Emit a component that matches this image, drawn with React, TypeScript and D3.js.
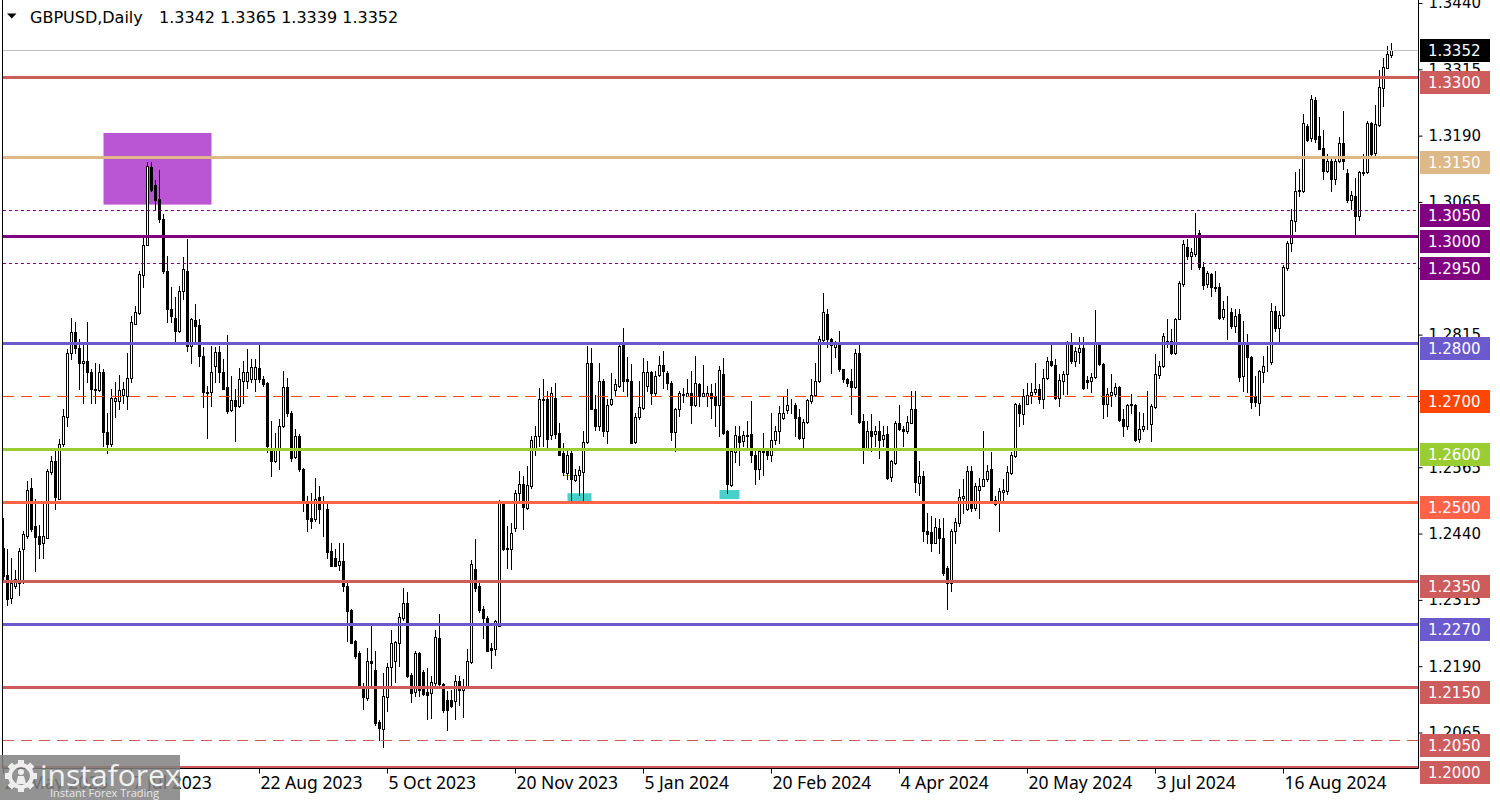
import { useEffect, useRef } from "react";
import * as d3 from "d3";

// GBPUSD daily candles, one value per trading day from 24 May 2023
const opens = [
  1.2413, 1.2361, 1.2319, 1.2341, 1.2347, 1.241, 1.2435, 1.2525, 1.2455, 1.2435,
  1.2423, 1.2432, 1.2556, 1.2576, 1.2506, 1.2608, 1.2659, 1.278, 1.2819, 1.2789,
  1.2761, 1.2765, 1.2744, 1.2711, 1.2711, 1.2745, 1.2632, 1.2608, 1.2689, 1.2689,
  1.2701, 1.27, 1.2734, 1.2835, 1.2856, 1.2928, 1.2983, 1.313, 1.3097, 1.3071,
  1.3033, 1.2935, 1.2864, 1.2847, 1.2822, 1.2898, 1.2935, 1.2793, 1.2843, 1.2833,
  1.2774, 1.2707, 1.2706, 1.2755, 1.2783, 1.2745, 1.2717, 1.2673, 1.2692, 1.2681,
  1.2728, 1.2728, 1.2731, 1.2732, 1.2752, 1.2731, 1.2723, 1.26, 1.2576, 1.2599,
  1.2643, 1.2717, 1.2668, 1.2585, 1.2623, 1.2562, 1.2501, 1.247, 1.2467, 1.2508,
  1.2487, 1.2486, 1.2407, 1.2393, 1.238, 1.2388, 1.2341, 1.2295, 1.2237, 1.2215,
  1.2151, 1.213, 1.2199, 1.2183, 1.2084, 1.2072, 1.2132, 1.2188, 1.2199, 1.2234,
  1.2281, 1.2309, 1.2174, 1.2141, 1.2214, 1.2179, 1.2141, 1.2139, 1.2158, 1.2243,
  1.2157, 1.2126, 1.2126, 1.2124, 1.2163, 1.2146, 1.2151, 1.2197, 1.2373, 1.2342,
  1.2297, 1.2281, 1.2224, 1.2222, 1.2265, 1.2498, 1.2413, 1.241, 1.2451, 1.2517,
  1.2534, 1.2488, 1.2529, 1.2599, 1.2624, 1.2692, 1.2693, 1.2625, 1.2696, 1.2629,
  1.2592, 1.2555, 1.2591, 1.2541, 1.255, 1.2556, 1.2612, 1.2762, 1.2675, 1.2643,
  1.2728, 1.2633, 1.2685, 1.2711, 1.2718, 1.2795, 1.2731, 1.2728, 1.2612, 1.266,
  1.2677, 1.2718, 1.2744, 1.2704, 1.2738, 1.2757, 1.2743, 1.2724, 1.2631, 1.2674,
  1.2702, 1.27, 1.2704, 1.2682, 1.2721, 1.27, 1.27, 1.2705, 1.27, 1.2682,
  1.274, 1.2633, 1.2531, 1.2594, 1.2624, 1.2614, 1.2624, 1.2627, 1.2589, 1.2561,
  1.2594, 1.2595, 1.2589, 1.2617, 1.2633, 1.2657, 1.2673, 1.268, 1.2682, 1.2659,
  1.2621, 1.265, 1.269, 1.2702, 1.2728, 1.2804, 1.2853, 1.2806, 1.2791, 1.28,
  1.275, 1.2732, 1.2727, 1.2717, 1.2781, 1.2652, 1.2602, 1.2633, 1.2627, 1.2633,
  1.2618, 1.2628, 1.2547, 1.2573, 1.2649, 1.2638, 1.2633, 1.2649, 1.2674, 1.2536,
  1.2549, 1.2445, 1.2443, 1.2423, 1.245, 1.2432, 1.2375, 1.2346, 1.2445, 1.246,
  1.2507, 1.2487, 1.2558, 1.2488, 1.2523, 1.2529, 1.2542, 1.2561, 1.2504, 1.2499,
  1.2518, 1.252, 1.2555, 1.2586, 1.2682, 1.2665, 1.2685, 1.2701, 1.2706, 1.2713,
  1.2694, 1.2734, 1.2765, 1.2757, 1.2696, 1.2728, 1.274, 1.28, 1.2765, 1.2782,
  1.2789, 1.2729, 1.2728, 1.2736, 1.2797, 1.2759, 1.2684, 1.2701, 1.2703, 1.2717,
  1.2655, 1.2642, 1.2682, 1.2682, 1.2618, 1.2637, 1.2648, 1.2646, 1.2679, 1.2738,
  1.2755, 1.2803, 1.2803, 1.2781, 1.2845, 1.291, 1.2981, 1.2964, 1.2967, 1.3006,
  1.2943, 1.291, 1.2929, 1.2903, 1.2904, 1.2849, 1.2859, 1.2858, 1.2831, 1.2853,
  1.2737, 1.2797, 1.2772, 1.2699, 1.2687, 1.2745, 1.2765, 1.2764, 1.286, 1.2827,
  1.2852, 1.294, 1.2987, 1.303, 1.3086, 1.3086, 1.3208, 1.3185, 1.3258, 1.3189,
  1.3166, 1.3124, 1.3143, 1.3109, 1.3143, 1.3177, 1.312, 1.3069, 1.3076, 1.3038,
  1.312, 1.3121, 1.3214, 1.3158, 1.321, 1.3279, 1.3317, 1.3342,
];

const highs = [
  1.247, 1.241, 1.2394, 1.2372, 1.2413, 1.2445, 1.2539, 1.2544, 1.2505, 1.2457,
  1.2498, 1.2561, 1.2586, 1.2596, 1.2618, 1.2674, 1.2788, 1.2847, 1.2838, 1.2806,
  1.2797, 1.2838, 1.275, 1.2762, 1.2759, 1.275, 1.2668, 1.2712, 1.2725, 1.2739,
  1.2725, 1.2781, 1.285, 1.2869, 1.2935, 1.2998, 1.314, 1.3141, 1.3107, 1.3126,
  1.3042, 1.2964, 1.2904, 1.2885, 1.2906, 1.2962, 1.2995, 1.2847, 1.2873, 1.2844,
  1.2791, 1.2718, 1.2794, 1.2791, 1.2794, 1.2769, 1.2814, 1.2737, 1.2712, 1.2752,
  1.2766, 1.2788, 1.2769, 1.2769, 1.2797, 1.2737, 1.2725, 1.2652, 1.263, 1.2656,
  1.2747, 1.2734, 1.2671, 1.2637, 1.2627, 1.2564, 1.2511, 1.2517, 1.2545, 1.253,
  1.2511, 1.2495, 1.2423, 1.2411, 1.2423, 1.2423, 1.2347, 1.2297, 1.224, 1.2218,
  1.2158, 1.2224, 1.2268, 1.2218, 1.2089, 1.2177, 1.2196, 1.2259, 1.2238, 1.229,
  1.2338, 1.2329, 1.2177, 1.2218, 1.2216, 1.2183, 1.2187, 1.2171, 1.2259, 1.2289,
  1.2158, 1.2143, 1.2146, 1.2174, 1.2171, 1.2165, 1.2222, 1.2391, 1.2429, 1.2346,
  1.2303, 1.2284, 1.2234, 1.2278, 1.2504, 1.2501, 1.2454, 1.246, 1.2523, 1.2558,
  1.2548, 1.2567, 1.2624, 1.2643, 1.2715, 1.2732, 1.2709, 1.2717, 1.2724, 1.2649,
  1.2611, 1.2599, 1.2595, 1.2561, 1.2567, 1.2633, 1.2794, 1.279, 1.2702, 1.2762,
  1.2731, 1.2693, 1.2743, 1.2731, 1.2797, 1.2827, 1.2772, 1.2759, 1.2668, 1.2728,
  1.277, 1.2765, 1.2746, 1.2746, 1.2775, 1.2784, 1.2746, 1.2728, 1.2677, 1.2709,
  1.2715, 1.2731, 1.2746, 1.2775, 1.2723, 1.2757, 1.2718, 1.2721, 1.2724, 1.2756,
  1.2771, 1.2636, 1.2599, 1.2643, 1.2643, 1.2633, 1.2652, 1.269, 1.2595, 1.2601,
  1.263, 1.2599, 1.2668, 1.2643, 1.268, 1.2699, 1.2712, 1.2693, 1.2687, 1.2674,
  1.2655, 1.2693, 1.2731, 1.2762, 1.2813, 1.2893, 1.2863, 1.2809, 1.2803, 1.2822,
  1.2751, 1.2734, 1.275, 1.2787, 1.2797, 1.2665, 1.2652, 1.2665, 1.2643, 1.2652,
  1.2643, 1.2643, 1.2579, 1.2652, 1.2683, 1.2643, 1.2662, 1.2709, 1.2709, 1.2577,
  1.2558, 1.2479, 1.2473, 1.2469, 1.2468, 1.247, 1.2378, 1.2448, 1.2469, 1.2524,
  1.2542, 1.2567, 1.2568, 1.2535, 1.2545, 1.2633, 1.257, 1.2593, 1.251, 1.2526,
  1.2542, 1.2567, 1.2593, 1.2687, 1.2687, 1.2712, 1.2724, 1.2724, 1.2762, 1.2721,
  1.275, 1.2772, 1.2797, 1.2769, 1.274, 1.2747, 1.2803, 1.2818, 1.2791, 1.281,
  1.281, 1.2737, 1.2743, 1.2862, 1.28, 1.2762, 1.2715, 1.274, 1.2724, 1.2719,
  1.2674, 1.2684, 1.2703, 1.2684, 1.2669, 1.2668, 1.2709, 1.2684, 1.2778, 1.2765,
  1.2818, 1.2844, 1.2825, 1.2847, 1.2916, 1.2994, 1.2995, 1.2979, 1.3044, 1.3013,
  1.2951, 1.2935, 1.2932, 1.2935, 1.2913, 1.2879, 1.2888, 1.2866, 1.2864, 1.2863,
  1.2841, 1.2816, 1.2775, 1.2737, 1.2749, 1.2775, 1.2794, 1.2874, 1.2869, 1.286,
  1.2946, 1.2992, 1.3052, 1.3121, 1.3127, 1.3231, 1.3212, 1.3267, 1.3262, 1.3226,
  1.3201, 1.3155, 1.3146, 1.3149, 1.3187, 1.3237, 1.3127, 1.3086, 1.3111, 1.3124,
  1.3156, 1.3218, 1.3215, 1.3247, 1.3313, 1.3337, 1.3359, 1.3365,
];

const lows = [
  1.2354, 1.2306, 1.231, 1.2338, 1.2325, 1.2347, 1.2432, 1.2445, 1.2369, 1.2394,
  1.2394, 1.2432, 1.2552, 1.2486, 1.2505, 1.2605, 1.2643, 1.2769, 1.2781, 1.2712,
  1.2687, 1.2725, 1.2687, 1.2687, 1.2709, 1.2605, 1.2591, 1.2605, 1.2659, 1.2674,
  1.2687, 1.2674, 1.2725, 1.2835, 1.2854, 1.2904, 1.2983, 1.3086, 1.3052, 1.3028,
  1.2932, 1.2839, 1.2838, 1.2803, 1.2819, 1.2882, 1.2784, 1.2762, 1.28, 1.2756,
  1.2679, 1.2621, 1.2681, 1.2725, 1.2725, 1.2712, 1.2668, 1.2671, 1.2615, 1.2678,
  1.2687, 1.2715, 1.2725, 1.2709, 1.2725, 1.2718, 1.2593, 1.2549, 1.2574, 1.2561,
  1.264, 1.2662, 1.2577, 1.2583, 1.2558, 1.2483, 1.2445, 1.2451, 1.2464, 1.246,
  1.2435, 1.2394, 1.2379, 1.2379, 1.2372, 1.2331, 1.2237, 1.2234, 1.2205, 1.2149,
  1.2109, 1.2127, 1.2152, 1.208, 1.2051, 1.2038, 1.2105, 1.2155, 1.2161, 1.219,
  1.2278, 1.217, 1.2122, 1.2133, 1.2133, 1.2136, 1.209, 1.2092, 1.2149, 1.2152,
  1.2103, 1.207, 1.2114, 1.209, 1.2117, 1.2095, 1.2149, 1.2196, 1.2331, 1.2293,
  1.2243, 1.2218, 1.2187, 1.2212, 1.2265, 1.2409, 1.2376, 1.2373, 1.2444, 1.2498,
  1.2448, 1.2487, 1.2526, 1.2589, 1.2605, 1.2605, 1.2602, 1.2619, 1.2621, 1.2588,
  1.2551, 1.2542, 1.2503, 1.2539, 1.2512, 1.2503, 1.261, 1.2674, 1.2636, 1.2636,
  1.2624, 1.2611, 1.2683, 1.2699, 1.2717, 1.2709, 1.2699, 1.261, 1.2611, 1.2655,
  1.2675, 1.2709, 1.2685, 1.2699, 1.2737, 1.2715, 1.2713, 1.2617, 1.2595, 1.2661,
  1.2688, 1.2699, 1.2648, 1.268, 1.268, 1.2699, 1.268, 1.2658, 1.2643, 1.2624,
  1.2627, 1.2517, 1.253, 1.2574, 1.257, 1.2605, 1.2599, 1.2574, 1.2533, 1.2542,
  1.2551, 1.258, 1.2577, 1.2608, 1.2611, 1.2655, 1.2668, 1.2668, 1.2624, 1.2618,
  1.2602, 1.2649, 1.2687, 1.2699, 1.2725, 1.2803, 1.2791, 1.2743, 1.2772, 1.2747,
  1.2725, 1.2718, 1.2665, 1.2715, 1.2649, 1.2573, 1.2599, 1.2595, 1.2605, 1.2582,
  1.2605, 1.2542, 1.2539, 1.2572, 1.2636, 1.2605, 1.263, 1.2649, 1.2518, 1.2512,
  1.2426, 1.2423, 1.2407, 1.2423, 1.2404, 1.2362, 1.2297, 1.2331, 1.2423, 1.2454,
  1.2479, 1.2485, 1.2482, 1.2485, 1.2469, 1.2529, 1.2539, 1.2503, 1.2493, 1.2444,
  1.2498, 1.2514, 1.2552, 1.2585, 1.2643, 1.2646, 1.2684, 1.2687, 1.2703, 1.2687,
  1.2677, 1.2732, 1.2756, 1.2694, 1.2681, 1.2703, 1.2703, 1.2762, 1.2756, 1.2762,
  1.2713, 1.2715, 1.2706, 1.2734, 1.2757, 1.2657, 1.2662, 1.2681, 1.2699, 1.2652,
  1.2623, 1.2637, 1.2668, 1.2615, 1.2613, 1.2633, 1.2637, 1.2615, 1.2677, 1.2734,
  1.2753, 1.2791, 1.2778, 1.2778, 1.2844, 1.2907, 1.2957, 1.2938, 1.2964, 1.2938,
  1.2901, 1.2904, 1.2888, 1.2897, 1.2844, 1.2845, 1.2806, 1.2828, 1.2819, 1.2728,
  1.2709, 1.2706, 1.2676, 1.2681, 1.2663, 1.2726, 1.2747, 1.2759, 1.2822, 1.2803,
  1.285, 1.2937, 1.2973, 1.3011, 1.3077, 1.3084, 1.3179, 1.318, 1.3178, 1.3164,
  1.3108, 1.3122, 1.3086, 1.3099, 1.3141, 1.3127, 1.3064, 1.3052, 1.3003, 1.3031,
  1.3115, 1.312, 1.3154, 1.3154, 1.3209, 1.3245, 1.3317, 1.3339,
];

const closes = [
  1.236, 1.2316, 1.2347, 1.2354, 1.2407, 1.2439, 1.2523, 1.2448, 1.2434, 1.242,
  1.2435, 1.2558, 1.2576, 1.2508, 1.2608, 1.2662, 1.2781, 1.282, 1.2789, 1.2761,
  1.2766, 1.2744, 1.2713, 1.2712, 1.2745, 1.2632, 1.2608, 1.2696, 1.2696, 1.2711,
  1.2712, 1.2734, 1.2838, 1.2858, 1.2929, 1.2983, 1.3132, 1.3088, 1.3069, 1.3032,
  1.2935, 1.2864, 1.285, 1.2822, 1.2898, 1.2939, 1.2793, 1.2845, 1.2832, 1.2774,
  1.2707, 1.2705, 1.2745, 1.2783, 1.2745, 1.2713, 1.2671, 1.2692, 1.2681, 1.2731,
  1.2745, 1.2744, 1.2753, 1.2753, 1.2731, 1.2722, 1.2605, 1.2577, 1.2599, 1.2643,
  1.2717, 1.2668, 1.2583, 1.2623, 1.2561, 1.2501, 1.2468, 1.2464, 1.2505, 1.2486,
  1.2486, 1.2405, 1.2379, 1.2379, 1.2388, 1.2341, 1.2294, 1.2234, 1.2209, 1.2151,
  1.2132, 1.2199, 1.2196, 1.2083, 1.2073, 1.2133, 1.2188, 1.2234, 1.2235, 1.2283,
  1.2309, 1.2171, 1.2139, 1.2214, 1.2146, 1.2138, 1.2136, 1.216, 1.2245, 1.2157,
  1.2108, 1.2108, 1.2115, 1.2163, 1.2146, 1.2151, 1.2199, 1.2382, 1.2338, 1.2295,
  1.228, 1.2218, 1.222, 1.2275, 1.2498, 1.2411, 1.241, 1.2441, 1.2517, 1.2534,
  1.249, 1.2532, 1.2617, 1.2624, 1.2693, 1.2693, 1.2619, 1.2705, 1.2627, 1.2589,
  1.2556, 1.2589, 1.2542, 1.255, 1.256, 1.2612, 1.2762, 1.2675, 1.2643, 1.2728,
  1.2633, 1.2683, 1.2694, 1.2721, 1.2794, 1.2728, 1.2728, 1.2611, 1.266, 1.2679,
  1.2744, 1.2744, 1.2704, 1.2737, 1.2757, 1.2746, 1.2724, 1.2631, 1.2674, 1.2704,
  1.2703, 1.2705, 1.2682, 1.2723, 1.2699, 1.2704, 1.2705, 1.2696, 1.2682, 1.2748,
  1.263, 1.2533, 1.2596, 1.2625, 1.2613, 1.2625, 1.2625, 1.2589, 1.2561, 1.2595,
  1.2595, 1.2589, 1.2617, 1.2633, 1.2668, 1.2668, 1.2682, 1.2681, 1.2657, 1.2621,
  1.265, 1.2692, 1.2702, 1.2728, 1.2806, 1.2857, 1.2806, 1.2795, 1.2797, 1.275,
  1.2731, 1.2723, 1.2717, 1.2781, 1.265, 1.2602, 1.2633, 1.2624, 1.2633, 1.2617,
  1.2625, 1.2545, 1.2576, 1.2649, 1.2638, 1.2633, 1.265, 1.2674, 1.2537, 1.2549,
  1.2445, 1.244, 1.2423, 1.2452, 1.2432, 1.2366, 1.2347, 1.2445, 1.2462, 1.2509,
  1.251, 1.2558, 1.2488, 1.2529, 1.2529, 1.2543, 1.2558, 1.2504, 1.2495, 1.252,
  1.2522, 1.2556, 1.2589, 1.2684, 1.2667, 1.2699, 1.2702, 1.2706, 1.2713, 1.2694,
  1.2734, 1.2765, 1.2757, 1.2696, 1.273, 1.274, 1.28, 1.2765, 1.2784, 1.2789,
  1.2715, 1.2726, 1.2736, 1.2797, 1.2759, 1.2684, 1.2703, 1.2706, 1.2717, 1.2654,
  1.2642, 1.2682, 1.2684, 1.2616, 1.2637, 1.2642, 1.2649, 1.2681, 1.274, 1.2756,
  1.2813, 1.2797, 1.2781, 1.2845, 1.2912, 1.2986, 1.2964, 1.2971, 1.3003, 1.2942,
  1.2908, 1.2931, 1.2904, 1.2905, 1.2847, 1.2864, 1.286, 1.2831, 1.285, 1.2736,
  1.2797, 1.2772, 1.2688, 1.2688, 1.2747, 1.2755, 1.2766, 1.286, 1.2827, 1.2852,
  1.2943, 1.2987, 1.3031, 1.3085, 1.3087, 1.3214, 1.3182, 1.3259, 1.3184, 1.3165,
  1.3124, 1.3143, 1.3109, 1.3143, 1.3177, 1.3143, 1.3069, 1.3078, 1.3038, 1.3121,
  1.3122, 1.3214, 1.3156, 1.3211, 1.3281, 1.3319, 1.3344, 1.3352,
];

// calendar: weekdays from the first bar, minus days the broker had no bar
const firstDay = "2023-05-24";
const holidays = ["2023-12-25", "2024-01-01"];

const tickDates = [
  "2023-05-24", "2023-07-07", "2023-08-22", "2023-10-05", "2023-11-20", "2024-01-05",
  "2024-02-20", "2024-04-04", "2024-05-20", "2024-07-03", "2024-08-16",
];
const tickLabels = [
  "24 May 2023", "7 Jul 2023", "22 Aug 2023", "5 Oct 2023", "20 Nov 2023", "5 Jan 2024",
  "20 Feb 2024", "4 Apr 2024", "20 May 2024", "3 Jul 2024", "16 Aug 2024",
];

const priceTicks = [
  1.344, 1.3315, 1.319, 1.3065, 1.294, 1.2815, 1.269, 1.2565, 1.244, 1.2315, 1.219, 1.2065,
];

const levelPrices = [
  1.33, 1.315, 1.305, 1.3, 1.295, 1.28, 1.27, 1.26, 1.25, 1.235, 1.227, 1.215, 1.205, 1.2,
];

// drawn objects: [start date, end date], [top price, bottom price]
const zoneDates = ["2023-06-28", "2023-08-04"];
const zonePrices = [1.3195, 1.306];
const supportDates = [
  ["2023-12-07", "2023-12-15"],
  ["2024-02-01", "2024-02-08"],
];
const supportPrices = [
  [1.2516, 1.2501],
  [1.2522, 1.2505],
];
const markDates = ["2023-12-06", "2023-12-11"];
const markPrice = 1.255;

const levelLook = [
  { color: "#cd5c5c", width: 3, dash: "" },
  { color: "#deb887", width: 3, dash: "" },
  { color: "#800080", width: 1, dash: "3,3" },
  { color: "#800080", width: 3, dash: "" },
  { color: "#800080", width: 1, dash: "3,3" },
  { color: "#6a5acd", width: 3, dash: "" },
  { color: "#ff4500", width: 1, dash: "11,7" },
  { color: "#9acd32", width: 3, dash: "" },
  { color: "#ff6347", width: 3, dash: "" },
  { color: "#cd5c5c", width: 3, dash: "" },
  { color: "#6a5acd", width: 3, dash: "" },
  { color: "#cd5c5c", width: 3, dash: "" },
  { color: "#cd5c5c", width: 1, dash: "11,7" },
  { color: "#cd5c5c", width: 3, dash: "" },
];

const axisFont = "'DejaVu Sans', Tahoma, sans-serif";
const dateFont = "'Noto Sans', 'DejaVu Sans', sans-serif";

function tradingDays(start: string, count: number, skip: string[]) {
  const fmt = d3.utcFormat("%Y-%m-%d");
  const out: string[] = [];
  let day = new Date(start + "T00:00:00Z");
  while (out.length < count) {
    const wd = day.getUTCDay();
    const key = fmt(day);
    if (wd !== 0 && wd !== 6 && !skip.includes(key)) out.push(key);
    day = d3.utcDay.offset(day, 1);
  }
  return out;
}

export default function App() {
  const ref = useRef<SVGSVGElement | null>(null);

  useEffect(() => {
    const width = 1500;
    const height = 800;
    const plot = { left: 2.5, right: 1418.5, top: 0, bottom: 768.5 };

    const svg = d3.select(ref.current);
    svg.selectAll("*").remove();

    const dates = tradingDays(firstDay, closes.length, holidays);
    const x = d3
      .scaleBand<string>()
      .domain(dates)
      .range([1.5, 1.5 + 4 * dates.length]);
    const cx = (d: string) => (x(d) as number) + x.bandwidth() / 2;
    const y = d3.scaleLinear().domain([1.2, 1.344]).range([767, 3]);
    const py = (v: number) => Math.round(y(v));

    svg.append("rect").attr("width", width).attr("height", height).attr("fill", "#fff");

    svg
      .append("defs")
      .append("clipPath")
      .attr("id", "plot-clip")
      .append("rect")
      .attr("x", 3)
      .attr("y", 0)
      .attr("width", plot.right - 3)
      .attr("height", plot.bottom);

    const chart = svg.append("g").attr("clip-path", "url(#plot-clip)");

    // background objects
    chart
      .append("rect")
      .attr("x", cx(zoneDates[0]))
      .attr("y", y(zonePrices[0]))
      .attr("width", cx(zoneDates[1]) - cx(zoneDates[0]))
      .attr("height", y(zonePrices[1]) - y(zonePrices[0]))
      .attr("fill", "#ba55d3");

    supportDates.forEach((pair, i) => {
      chart
        .append("rect")
        .attr("x", cx(pair[0]))
        .attr("y", y(supportPrices[i][0]))
        .attr("width", cx(pair[1]) - cx(pair[0]))
        .attr("height", y(supportPrices[i][1]) - y(supportPrices[i][0]))
        .attr("fill", "#48d1cc");
    });

    chart
      .append("line")
      .attr("x1", cx(markDates[0]))
      .attr("x2", cx(markDates[1]))
      .attr("y1", py(markPrice) + 0.5)
      .attr("y2", py(markPrice) + 0.5)
      .attr("stroke", "#9acd32");

    // candles
    const bars = dates.map((d, i) => ({
      d,
      o: opens[i],
      h: highs[i],
      l: lows[i],
      c: closes[i],
    }));

    const candles = chart.append("g");
    candles
      .selectAll("line")
      .data(bars)
      .join("line")
      .attr("x1", (b) => cx(b.d))
      .attr("x2", (b) => cx(b.d))
      .attr("y1", (b) => py(b.h))
      .attr("y2", (b) => py(b.l) + 1)
      .attr("stroke", "#000");

    candles
      .selectAll("rect")
      .data(bars)
      .join("rect")
      .attr("x", (b) => cx(b.d) - 1)
      .attr("y", (b) => py(Math.max(b.o, b.c)) + 0.5)
      .attr("width", 2)
      .attr("height", (b) => Math.max(0, py(Math.min(b.o, b.c)) - py(Math.max(b.o, b.c))))
      .attr("fill", (b) => (b.c >= b.o ? "#fff" : "#000"))
      .attr("stroke", "#000");

    // horizontal levels
    levelPrices.forEach((p, i) => {
      const look = levelLook[i];
      chart
        .append("line")
        .attr("x1", 3)
        .attr("x2", plot.right)
        .attr("y1", py(p) + 0.5)
        .attr("y2", py(p) + 0.5)
        .attr("stroke", look.color)
        .attr("stroke-width", look.width)
        .attr("stroke-dasharray", look.dash || null);
    });

    const bid = closes[closes.length - 1];
    chart
      .append("line")
      .attr("x1", 3)
      .attr("x2", plot.right)
      .attr("y1", py(bid) + 0.5)
      .attr("y2", py(bid) + 0.5)
      .attr("stroke", "#c0c0c0");

    // frame
    svg
      .append("path")
      .attr("d", `M${plot.left},0V${plot.bottom}H${plot.right}V0`)
      .attr("fill", "none")
      .attr("stroke", "#000");

    // price axis
    const yAxis = svg
      .append("g")
      .attr("transform", `translate(${plot.right},0)`)
      .call(
        d3
          .axisRight(y)
          .tickValues(priceTicks)
          .tickFormat(d3.format(".4f"))
          .tickSize(4)
          .tickPadding(6)
          .offset(0.5)
      );
    yAxis.select(".domain").remove();
    yAxis.attr("font-family", axisFont).attr("font-size", 15);
    yAxis.selectAll("text").attr("fill", "#000");
    yAxis.selectAll("line").attr("stroke", "#000");

    // date axis
    const xAxis = svg
      .append("g")
      .attr("transform", `translate(0,${plot.bottom})`)
      .call(
        d3
          .axisBottom(x)
          .tickValues(tickDates)
          .tickFormat((_, i) => tickLabels[i])
          .tickSize(5)
          .offset(0)
      );
    xAxis.select(".domain").remove();
    xAxis.attr("font-family", dateFont).attr("font-size", 17.5);
    xAxis
      .selectAll("text")
      .attr("text-anchor", "start")
      .attr("x", 1)
      .attr("y", 8)
      .attr("fill", "#000");
    xAxis.selectAll("line").attr("stroke", "#000");

    // price labels of the levels
    const tags = svg.append("g").attr("font-family", axisFont).attr("font-size", 15);
    levelPrices.forEach((p, i) => {
      const ly = py(p);
      tags
        .append("rect")
        .attr("x", 1420)
        .attr("y", ly - 6)
        .attr("width", 70)
        .attr("height", 23)
        .attr("fill", levelLook[i].color);
      tags
        .append("text")
        .attr("x", 1428)
        .attr("y", ly + 5.5)
        .attr("dy", "0.36em")
        .attr("fill", "#fff")
        .text(d3.format(".4f")(p));
    });
    const by = py(bid);
    tags
      .append("rect")
      .attr("x", 1420)
      .attr("y", by - 11)
      .attr("width", 70)
      .attr("height", 23)
      .attr("fill", "#000");
    tags
      .append("text")
      .attr("x", 1428)
      .attr("y", by + 0.5)
      .attr("dy", "0.36em")
      .attr("fill", "#fff")
      .text(d3.format(".4f")(bid));

    // title
    const last = closes.length - 1;
    svg.append("path").attr("d", "M7,13.5H16.5L11.75,18.5Z").attr("fill", "#000");
    const title = svg.append("g").attr("font-family", axisFont).attr("font-size", 16);
    title.append("text").attr("x", 30).attr("y", 23).text("GBPUSD,Daily");
    title
      .append("text")
      .attr("x", 159)
      .attr("y", 23)
      .text(
        [opens[last], highs[last], lows[last], closes[last]]
          .map((v) => d3.format(".4f")(v))
          .join(" ")
      );

    // watermark
    const mark = svg.append("g");
    mark
      .append("rect")
      .attr("x", 0)
      .attr("y", 755)
      .attr("width", 180)
      .attr("height", 45)
      .attr("fill", "#808080")
      .attr("opacity", 0.85);
    const gear = mark.append("g").attr("transform", "translate(21,776)");
    d3.range(8).forEach((k) => {
      gear
        .append("rect")
        .attr("x", -3)
        .attr("y", -16)
        .attr("width", 6)
        .attr("height", 7)
        .attr("fill", "#eee")
        .attr("transform", `rotate(${k * 45})`);
    });
    gear.append("circle").attr("r", 11).attr("fill", "none").attr("stroke", "#eee").attr("stroke-width", 4);
    gear.append("circle").attr("cy", -4).attr("r", 3).attr("fill", "#eee");
    gear.append("path").attr("d", "M-5,8 L-3,0 H3 L5,8 Z").attr("fill", "#eee");
    mark
      .append("text")
      .attr("x", 40)
      .attr("y", 786)
      .attr("font-family", "'Open Sans', sans-serif")
      .attr("font-size", 30)
      .attr("fill", "#f2f2f2")
      .text("instaforex");
    mark
      .append("text")
      .attr("x", 50)
      .attr("y", 797)
      .attr("font-family", "'Open Sans', sans-serif")
      .attr("font-size", 11)
      .attr("fill", "#e8e8e8")
      .text("Instant Forex Trading");
  }, []);

  return (
    <svg
      ref={ref}
      width={1500}
      height={800}
      style={{ position: "absolute", left: 0, top: 0 }}
    />
  );
}
